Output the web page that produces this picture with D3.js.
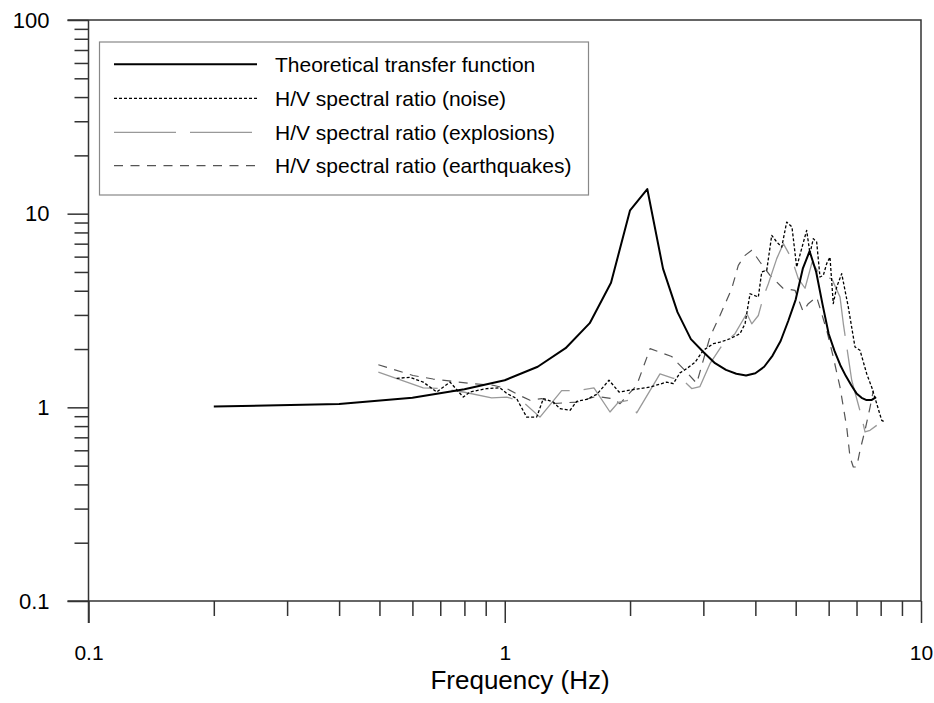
<!DOCTYPE html>
<html>
<head>
<meta charset="utf-8">
<script src="https://cdn.jsdelivr.net/npm/d3@7"></script>
<style>
    body { margin: 0; background: #fff; }
    #chart { width: 934px; height: 703px; }
    text { font-family: Arial, "Liberation Sans", sans-serif; fill: #000; }
</style>
</head>
<body>
<div id="chart"></div>
<script>
// Theoretical transfer function
const theoryFreq  = [0.2, 0.4, 0.6, 0.8, 1.0, 1.2, 1.4, 1.6, 1.8, 2.0, 2.2, 2.4, 2.6, 2.8, 3.0, 3.2, 3.4, 3.6, 3.8, 4.0,
                     4.2, 4.4, 4.6, 4.8, 5.0, 5.2, 5.4, 5.6, 5.8, 6.0, 6.2, 6.4, 6.6, 6.8, 7.0, 7.2, 7.4, 7.6, 7.8];
const theoryRatio = [1.01, 1.04, 1.12, 1.24, 1.38, 1.62, 2.02, 2.72, 4.4, 10.4, 13.4, 5.2, 3.1, 2.25, 1.93, 1.69, 1.56, 1.49, 1.46, 1.5,
                     1.62, 1.85, 2.2, 2.8, 3.6, 5.2, 6.4, 5.0, 3.4, 2.4, 1.95, 1.65, 1.45, 1.3, 1.18, 1.12, 1.09, 1.09, 1.13];

// H/V spectral ratio (noise)
const noiseFreq  = [0.55, 0.592, 0.637, 0.686, 0.739, 0.795, 0.825, 0.905, 0.974, 1.011, 1.068, 1.129, 1.193, 1.238, 1.308, 1.357,
                    1.435, 1.489, 1.574, 1.664, 1.78, 1.882, 2.036, 2.234, 2.449, 2.541, 2.636, 2.736, 2.864, 2.999, 3.17, 3.289,
                    3.476, 3.674, 3.778, 3.884, 4.066, 4.144, 4.26, 4.379, 4.502, 4.628, 4.757, 4.898, 5.027, 5.168, 5.313, 5.411,
                    5.511, 5.615, 5.719, 5.825, 5.935, 6.044, 6.155, 6.273, 6.449, 6.688, 6.941, 7.137, 7.406, 7.614, 7.827, 8.046, 8.195];
const noiseRatio = [1.41, 1.43, 1.35, 1.2, 1.35, 1.13, 1.2, 1.25, 1.26, 1.18, 1.11, 0.89, 0.89, 1.11, 1.065, 0.985,
                    0.965, 1.074, 1.1, 1.167, 1.38, 1.2, 1.234, 1.273, 1.35, 1.326, 1.507, 1.584, 1.707, 1.97, 2.13, 2.17,
                    2.26, 2.4, 2.7, 3.86, 3.71, 5.0, 5.1, 7.73, 7.14, 6.72, 9.05, 8.53, 5.3, 6.6, 8.2, 6.22,
                    7.43, 7.14, 4.71, 4.8, 5.52, 5.97, 3.43, 4.18, 4.9, 3.3, 2.05, 1.97, 1.49, 1.27, 1.045, 0.857, 0.84];

// H/V spectral ratio (explosions)
const explFreq  = [0.497, 0.637, 0.699, 0.795, 0.93, 1.011, 1.108, 1.215, 1.37, 1.489, 1.638, 1.79, 1.874, 1.981, 2.075,
                   2.36, 2.541, 2.636, 2.813, 2.944, 3.112, 3.326, 3.574, 3.814, 3.921, 4.066, 4.18, 4.298, 4.502, 4.67,
                   4.891, 5.073, 5.265, 5.473, 5.772, 6.103, 6.39, 6.508, 6.816, 7.204, 7.337, 7.543, 7.827];
const explRatio = [1.52, 1.26, 1.25, 1.2, 1.12, 1.13, 1.065, 0.89, 1.22, 1.22, 1.26, 0.946, 1.06, 1.087, 0.937,
                   1.49, 1.41, 1.43, 1.25, 1.28, 1.68, 2.09, 2.4, 3.05, 2.7, 2.98, 3.71, 4.35, 5.86, 7.0,
                   5.86, 4.62, 4.12, 5.6, 4.71, 4.62, 3.71, 2.7, 1.38, 0.89, 0.746, 0.761, 0.807];

// H/V spectral ratio (earthquakes)
const quakeFreq  = [0.497, 0.54, 0.602, 0.673, 0.825, 0.937, 1.011, 1.088, 1.15, 1.227, 1.297, 1.489, 1.664, 1.807, 1.892,
                    2.075, 2.234, 2.518, 2.612, 2.736, 2.891, 3.112, 3.289, 3.51, 3.64, 3.778, 3.921, 4.104, 4.338, 4.661,
                    4.981, 5.207, 5.361, 5.615, 5.935, 6.155, 6.39, 6.63, 6.752, 6.877, 7.007, 7.137, 7.337, 7.543, 7.681];
const quakeRatio = [1.66, 1.57, 1.46, 1.4, 1.33, 1.3, 1.25, 1.15, 1.087, 1.11, 1.045, 1.065, 1.14, 1.11, 1.045,
                    1.3, 2.01, 1.83, 1.68, 1.52, 1.33, 2.31, 2.98, 4.1, 5.41, 6.09, 6.47, 5.63, 4.8, 4.12,
                    4.02, 3.13, 3.43, 3.71, 2.5, 1.82, 1.27, 0.79, 0.554, 0.492, 0.492, 0.6, 0.761, 1.0, 1.22];

const yMajor = [0.1, 1, 10, 100];
const xMajor = [0.1, 1, 10];
const yMinor = [2, 3, 4, 5, 6, 7, 8, 9].flatMap(m => [0.1 * m, m, 10 * m]);
const xMinor = [2, 3, 4, 5, 6, 7, 8, 9].flatMap(m => [0.1 * m, m]);

const legendLabels = [
    'Theoretical transfer function',
    'H/V spectral ratio (noise)',
    'H/V spectral ratio (explosions)',
    'H/V spectral ratio (earthquakes)'
];

document.addEventListener('DOMContentLoaded', () => {
    const width = 934, height = 703;
    const plot = { left: 88.5, right: 921, top: 20, bottom: 601 };

    const svg = d3.select('#chart')
        .append('svg')
        .attr('width', width)
        .attr('height', height);

    const x = d3.scaleLog().domain([0.1, 10]).range([plot.left, plot.right]);
    const y = d3.scaleLog().domain([0.1, 100]).range([plot.bottom, plot.top]);

    const axisColor = '#333';
    const fmt = d => (d < 1 ? d3.format('.1f')(d) : d3.format('d')(d));

    // frame: top and right sides
    svg.append('path')
        .attr('d', `M${plot.left - 21},${plot.top}H${plot.right}V${plot.bottom}`)
        .attr('fill', 'none')
        .attr('stroke', axisColor)
        .attr('stroke-width', 1.5);

    const styleAxis = g => {
        g.select('.domain').remove();
        g.selectAll('.tick line').attr('stroke', axisColor).attr('stroke-width', 1.5);
        g.selectAll('text').style('font-size', '22px').attr('fill', '#000');
    };

    // left axis
    svg.append('g')
        .attr('transform', `translate(${plot.left},0)`)
        .call(d3.axisLeft(y).tickValues(yMinor).tickSize(14).tickFormat(''))
        .call(styleAxis);
    svg.append('g')
        .attr('transform', `translate(${plot.left},0)`)
        .call(d3.axisLeft(y).tickValues(yMajor).tickSize(21).tickPadding(18).tickFormat(fmt))
        .call(styleAxis);

    // bottom axis
    svg.append('g')
        .attr('transform', `translate(0,${plot.bottom})`)
        .call(d3.axisBottom(x).tickValues(xMinor).tickSize(15).tickFormat(''))
        .call(styleAxis);
    svg.append('g')
        .attr('transform', `translate(0,${plot.bottom})`)
        .call(d3.axisBottom(x).tickValues(xMajor).tickSize(22).tickPadding(22).tickFormat(fmt))
        .call(styleAxis)
        .call(g => g.selectAll('text').style('font-size', '21px'));

    // axis lines
    svg.append('line')
        .attr('x1', plot.left).attr('x2', plot.left)
        .attr('y1', plot.top).attr('y2', plot.bottom + 22)
        .attr('stroke', axisColor).attr('stroke-width', 1.5);
    svg.append('line')
        .attr('x1', plot.left - 21).attr('x2', plot.right)
        .attr('y1', plot.bottom).attr('y2', plot.bottom)
        .attr('stroke', axisColor).attr('stroke-width', 1.5);

    svg.append('text')
        .attr('x', 520)
        .attr('y', 689)
        .attr('text-anchor', 'middle')
        .style('font-size', '26px')
        .text('Frequency (Hz)');

    // series
    const series = [
        { f: theoryFreq, v: theoryRatio, color: '#000', width: 2, dash: null },
        { f: noiseFreq, v: noiseRatio, color: '#000', width: 1.3, dash: '3,2' },
        { f: explFreq, v: explRatio, color: '#999', width: 1.3, dash: '62,14' },
        { f: quakeFreq, v: quakeRatio, color: '#555', width: 1.2, dash: '9,7.5' }
    ];

    const line = d3.line()
        .x(d => x(d[0]))
        .y(d => y(d[1]));

    // draw earthquakes and explosions first, theoretical on top
    [3, 2, 1, 0].forEach(i => {
        const s = series[i];
        svg.append('path')
            .datum(d3.zip(s.f, s.v))
            .attr('d', line)
            .attr('fill', 'none')
            .attr('stroke', s.color)
            .attr('stroke-width', s.width)
            .attr('stroke-dasharray', s.dash)
            .attr('stroke-linejoin', 'round');
    });

    // legend
    const legend = svg.append('g');
    legend.append('rect')
        .attr('x', 99.5).attr('y', 42)
        .attr('width', 489).attr('height', 153)
        .attr('fill', '#fff')
        .attr('stroke', '#888')
        .attr('stroke-width', 1.2);

    const rowY = [64.3, 98.3, 132.3, 165.7];
    series.forEach((s, i) => {
        legend.append('line')
            .attr('x1', 114).attr('x2', 257)
            .attr('y1', rowY[i]).attr('y2', rowY[i])
            .attr('stroke', s.color)
            .attr('stroke-width', s.width)
            .attr('stroke-dasharray', s.dash);
        legend.append('text')
            .attr('x', 275)
            .attr('y', rowY[i])
            .attr('dy', '0.35em')
            .style('font-size', '21px')
            .text(legendLabels[i]);
    });
});
</script>
</body>
</html>
